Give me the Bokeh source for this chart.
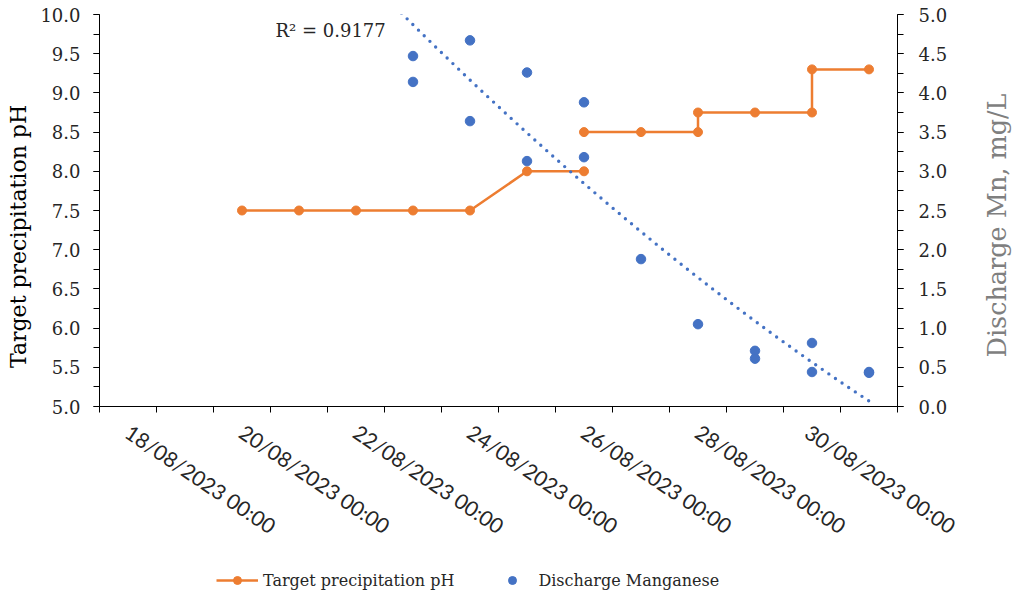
import numpy as np
import pandas as pd
from bokeh.plotting import figure
from bokeh.layouts import column, row
from bokeh.models import (Range1d, LinearAxis, FixedTicker, DatetimeTickFormatter,
                          PrintfTickFormatter, Legend, LegendItem, Label)
from bokeh.embed import file_html
from bokeh.resources import INLINE

# ---------------- data ----------------
ph_dates = ["20/08/2023", "21/08/2023", "22/08/2023", "23/08/2023", "24/08/2023",
            "25/08/2023", "26/08/2023", "26/08/2023", "27/08/2023", "28/08/2023",
            "28/08/2023", "29/08/2023", "30/08/2023", "30/08/2023", "31/08/2023"]
ph_values = [7.5, 7.5, 7.5, 7.5, 7.5, 8.0, 8.0, 8.5, 8.5, 8.5, 8.75, 8.75, 8.75, 9.3, 9.3]
ph_segment = [0, 0, 0, 0, 0, 0, 0, 1, 1, 1, 1, 1, 1, 1, 1]

mn_dates = ["23/08/2023", "23/08/2023", "24/08/2023", "24/08/2023", "25/08/2023",
            "25/08/2023", "26/08/2023", "26/08/2023", "27/08/2023", "28/08/2023",
            "29/08/2023", "29/08/2023", "30/08/2023", "30/08/2023", "31/08/2023",
            "31/08/2023"]
mn_values = [4.47, 4.14, 4.67, 3.64, 4.26, 3.13, 3.88, 3.18, 1.88, 1.05,
             0.71, 0.61, 0.81, 0.44, 0.44, 0.43]

# polynomial trendline of the Mn series as drawn (days since trend_origin)
trend_coef = [0.015, -0.72, 4.87]
trend_origin = "23/08/2023"
trend_span = ["20/08/2023", "31/08/2023"]

label_dates = ["18/08/2023", "20/08/2023", "22/08/2023", "24/08/2023",
               "26/08/2023", "28/08/2023", "30/08/2023"]
axis_start, axis_end = "17/08/2023", "31/08/2023"
ph_ticks = [5.0, 5.5, 6.0, 6.5, 7.0, 7.5, 8.0, 8.5, 9.0, 9.5, 10.0]
mn_ticks = [0.0, 0.5, 1.0, 1.5, 2.0, 2.5, 3.0, 3.5, 4.0, 4.5, 5.0]
r2_text = "R\u00b2 = 0.9177"
left_title = "Target precipitation pH"
right_title = "Discharge Mn, mg/L"
ph_name = "Target precipitation pH"
mn_name = "Discharge Manganese"

ORANGE = "#ED7D31"
BLUE = "#4472C4"
SERIF = "DejaVu Serif"
SANS = "Lato"
TXT = "#262626"

TOP, BOTTOM = 14, 146
H = 552


def to_dt(lst):
    return pd.to_datetime(lst, format="%d/%m/%Y")


def ms(ts):
    return ts.value / 1e6


HALF = pd.Timedelta(hours=12)
ph_x = to_dt(ph_dates)
mn_x = to_dt(mn_dates)
x_lo = to_dt([axis_start])[0] + HALF
x_hi = to_dt([axis_end])[0] + HALF

p = figure(width=924, height=H, x_axis_type="datetime",
           x_range=Range1d(x_lo, x_hi), y_range=Range1d(5, 10),
           output_backend="svg", toolbar_location=None,
           min_border_left=63, min_border_right=63, min_border_top=TOP,
           min_border_bottom=BOTTOM)
p.extra_y_ranges = {"mn": Range1d(0, 5)}
p.xgrid.visible = False
p.ygrid.visible = False
p.outline_line_color = None

# pH series (stepwise segments)
seg = np.array(ph_segment)
line_renderers = []
for s in sorted(set(ph_segment)):
    m = seg == s
    r = p.line(ph_x[m], np.array(ph_values)[m], line_color=ORANGE, line_width=2.5)
    line_renderers.append(r)
ph_pts = p.scatter(ph_x, ph_values, size=9, fill_color=ORANGE, line_color=ORANGE)

# Mn series
mn_pts = p.scatter(mn_x, mn_values, size=9.5, fill_color=BLUE, line_color=BLUE,
                   y_range_name="mn")

# trendline
t0 = to_dt([trend_origin])[0]
span = to_dt(trend_span)
tt = np.linspace((span[0] - t0) / pd.Timedelta(days=1),
                 (span[1] - t0) / pd.Timedelta(days=1), 400)
yy = np.polyval(trend_coef, tt)
xx = t0 + pd.to_timedelta(tt, unit="D")
p.line(xx, yy, line_color=BLUE, line_width=3.4, line_dash="0 8", line_cap="round",
       y_range_name="mn")

# ---------------- axes ----------------
xa = p.xaxis[0]
xa.ticker = FixedTicker(ticks=[ms(d) for d in to_dt(label_dates)],
                        minor_ticks=[ms(x_lo + pd.Timedelta(days=i)) for i in range(15)])
fmt = "%d/%m/%Y %H:%M"
xa.formatter = DatetimeTickFormatter(microseconds=fmt, milliseconds=fmt, seconds=fmt,
                                     minsec=fmt, minutes=fmt, hourmin=fmt, hours=fmt,
                                     days=fmt, months=fmt, years=fmt)
xa.major_label_orientation = -0.593
xa.major_tick_out = 0
xa.major_tick_in = 0
xa.minor_tick_out = 6
xa.minor_tick_in = 0
xa.major_label_standoff = 17
xa.major_label_text_font = SANS
xa.major_label_text_font_size = "21px"
xa.major_label_text_color = TXT

ya = p.yaxis[0]
ya.ticker = FixedTicker(ticks=ph_ticks,
                        minor_ticks=list(np.arange(5.0, 10.01, 0.25)))
ya.formatter = PrintfTickFormatter(format="%.1f")

yr = LinearAxis(y_range_name="mn",
                ticker=FixedTicker(ticks=mn_ticks,
                                   minor_ticks=list(np.arange(0.0, 5.01, 0.25))),
                formatter=PrintfTickFormatter(format="%.1f"))
p.add_layout(yr, "right")

for ax, so in ((ya, 13), (yr, 15)):
    ax.major_tick_out = 6
    ax.major_tick_in = 0
    ax.minor_tick_out = 6
    ax.minor_tick_in = 0
    ax.major_label_standoff = so
    ax.major_label_text_font = SERIF
    ax.major_label_text_font_size = "18px"
    ax.major_label_text_color = TXT

for ax in (xa, ya, yr):
    ax.axis_line_color = "black"
    ax.major_tick_line_color = "black"
    ax.minor_tick_line_color = "black"
    ax.axis_line_width = 1

p.add_layout(Label(x=176, y=376, x_units="screen", y_units="screen", text=r2_text,
                   text_align="left", text_baseline="middle",
                   text_font=SERIF, text_font_size="18px", text_color=TXT))


# ---------------- side strips holding the axis titles ----------------
def strip(width):
    f = figure(width=width, height=H, x_range=Range1d(0, 1), y_range=Range1d(0, 1),
               output_backend="svg", toolbar_location=None,
               x_axis_location=None, y_axis_location=None,
               min_border_left=0, min_border_right=0, min_border_top=TOP,
               min_border_bottom=BOTTOM)
    f.grid.visible = False
    f.outline_line_color = None
    return f


ls = strip(36)
ls.add_layout(Label(x=18, y=170, x_units="screen", y_units="screen", text=left_title,
                    angle=np.pi / 2, text_align="center", text_baseline="middle",
                    text_font=SERIF, text_font_size="22px", text_color="black"))
rs = strip(52)
rs.add_layout(Label(x=36, y=181, x_units="screen", y_units="screen", text=right_title,
                    angle=np.pi / 2, text_align="center", text_baseline="middle",
                    text_font=SERIF, text_font_size="25.5px", text_color="#7F7F7F"))

# ---------------- legend strip ----------------
lg = figure(width=1012, height=40, x_range=Range1d(0, 1), y_range=Range1d(0, 1),
            output_backend="svg", toolbar_location=None,
            x_axis_location=None, y_axis_location=None,
            min_border_left=0, min_border_right=0, min_border_top=0, min_border_bottom=0)
lg.grid.visible = False
lg.outline_line_color = None
nan = [np.nan]
l1 = lg.line(nan, nan, line_color=ORANGE, line_width=2.5)
l2 = lg.scatter(nan, nan, size=9, fill_color=ORANGE, line_color=ORANGE)
l3 = lg.scatter(nan, nan, size=9.5, fill_color=BLUE, line_color=BLUE)
legend = Legend(items=[LegendItem(label=ph_name, renderers=[l1, l2]),
                       LegendItem(label=mn_name, renderers=[l3])],
                orientation="horizontal", location=(216, 2),
                glyph_width=42, glyph_height=20, label_standoff=5, spacing=37,
                padding=0, margin=0, border_line_color=None, background_fill_alpha=0,
                label_text_font=SERIF, label_text_font_size="16px",
                label_text_color=TXT)
lg.add_layout(legend)

layout = column(row(ls, p, rs, spacing=0), lg, spacing=0)
open("out.html", "w").write(file_html(layout, INLINE))
